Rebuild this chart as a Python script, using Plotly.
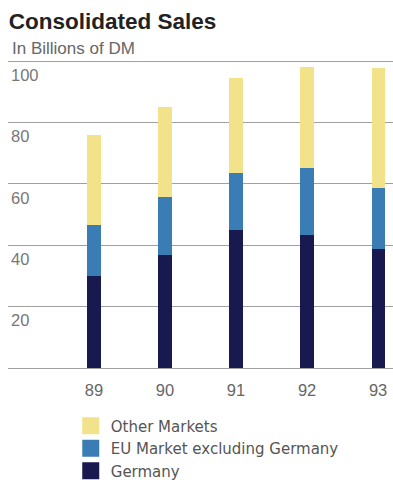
import plotly.graph_objects as go

years = ["89", "90", "91", "92", "93"]
germany = [30.0, 36.8, 45.0, 43.3, 38.8]
eu_ex_germany = [16.6, 18.9, 18.5, 21.8, 19.8]
other_markets = [29.4, 29.3, 30.9, 32.9, 39.1]
y_ticks = [20, 40, 60, 80, 100]

series = [
    ("Germany", germany, "#181a4f"),
    ("EU Market excluding Germany", eu_ex_germany, "#3a7db4"),
    ("Other Markets", other_markets, "#f2e28a"),
]

FONT = "Liberation Sans, Arial, sans-serif"

fig = go.Figure()
for name, vals, color in series:
    fig.add_trace(go.Bar(
        x=list(range(len(years))), y=vals, name=name,
        marker=dict(color=color, line=dict(width=0)),
        width=0.185, showlegend=False, hoverinfo="skip",
    ))
# legend entries (swatches enlarged via outline)
for name, vals, color in series:
    fig.add_trace(go.Bar(
        x=[None], y=[None], name=name,
        marker=dict(color=color, line=dict(width=5, color=color)),
        showlegend=True,
    ))

fig.update_layout(
    width=393, height=487,
    margin=dict(l=8, r=0, t=58, b=119, autoexpand=False),
    barmode="stack",
    paper_bgcolor="white", plot_bgcolor="white",
    font=dict(family=FONT, color="#666666"),
    title=dict(
        text="<b>Consolidated Sales</b>",
        font=dict(size=22.5, color="#222222", family=FONT),
        x=0.022, xanchor="left", xref="container",
        y=0.973, yanchor="top", yref="container",
    ),
    annotations=[dict(
        text="In Billions of DM", xref="paper", yref="paper",
        x=0.005, xanchor="left", y=1.0, yanchor="bottom", yshift=-2,
        showarrow=False, font=dict(size=17, color="#666666", family=FONT),
    )],
    xaxis=dict(
        range=[-1.21, 4.21],
        tickmode="array", tickvals=list(range(len(years))), ticktext=years,
        showgrid=False, zeroline=False, showline=False,
        ticks="", tickfont=dict(size=16.5, color="#666666"),
        ticklabelstandoff=10,
    ),
    yaxis=dict(
        range=[0, 101],
        tickmode="array", tickvals=[0] + y_ticks, ticktext=[""] + [str(v) for v in y_ticks],
        showgrid=True, gridcolor="#a0a0a0", gridwidth=1,
        zeroline=True, zerolinecolor="#a0a0a0", zerolinewidth=1,
        showline=False, ticks="",
        ticklabelposition="inside", ticklabelshift=14,
        tickfont=dict(size=16.5, color="#777777"),
    ),
    legend=dict(
        x=0.163, xanchor="left", y=-0.134, yanchor="top",
        font=dict(size=15, color="#555555", family="DejaVu Sans, sans-serif"),
        traceorder="reversed", tracegroupgap=0,
        itemwidth=30, bgcolor="rgba(0,0,0,0)",
    ),
)

fig.write_html("out.html")
